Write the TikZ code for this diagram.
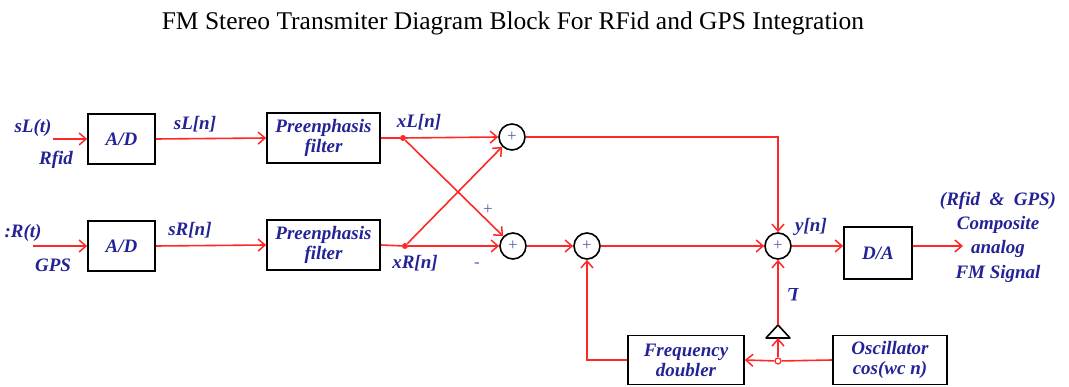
\documentclass[tikz,border=0pt]{standalone}
\usepackage{fontspec}
\setmainfont{Liberation Serif}
\usetikzlibrary{arrows.meta,positioning,calc}
\definecolor{sigred}{RGB}{255,40,40}
\definecolor{txtblue}{RGB}{35,35,150}

\begin{document}
\begin{tikzpicture}[x=1pt,y=-1pt,
  blk/.style={draw, line width=1.6pt, minimum height=50pt, inner sep=0pt, align=center,
    font=\fontsize{19}{20}\selectfont\bfseries\itshape, text=txtblue},
  summer/.style={circle, draw, line width=1.6pt, minimum size=26pt, inner sep=0pt,
    font=\fontsize{17}{17}\selectfont, text=txtblue!75},
  lbl/.style={font=\fontsize{19}{20}\selectfont\bfseries\itshape, text=txtblue},
  sig/.style={sigred, line width=1.6pt, -{Straight Barb[length=7pt,width=12pt,line width=1.5pt]}},
  wire/.style={sigred, line width=1.6pt},
  jdot/.style={circle, fill=sigred, inner sep=0pt, minimum size=6pt}]
\useasboundingbox (0,0) rectangle (1069,387);

% title
\node (title) at (513,23) {\fontsize{25.5}{28}\selectfont FM Stereo Transmiter Diagram Block For RFid and GPS Integration};

% blocks
\node[blk, minimum width=67pt] (adL) at (121.5,139) {A/D};
\node[blk, minimum width=113pt] (preL) at (323.5,138) {Preenphasis\\filter};
\node[blk, minimum width=67pt] (adR) at (121.5,246) {A/D};
\node[blk, minimum width=113pt] (preR) at (323.5,245) {Preenphasis\\filter};
\node[blk, minimum width=68pt, minimum height=52pt] (da) at (878,253) {D/A};
\node[blk, minimum width=116pt, minimum height=49pt] (freq) at (686,360) {Frequency\\doubler};
\node[blk, minimum width=114pt, minimum height=49pt] (osc) at (890,360) {Oscillator\\cos(wc n)};

% adders
\node[summer] (sumA) at (512,137) {+};
\node[summer] (sumB) at (513,246) {+};
\node[summer] (sumC) at (587,246) {+};
\node[summer] (sumY) at (778,246) {+};

% free ends and junctions
\coordinate (inL) at (53,139);
\coordinate (inR) at (33,246);
\coordinate (outEnd) at (963,246);
\node[jdot] (dotL) at (403,138) {};
\node[jdot] (dotR) at (405,246) {};
\coordinate (ampTop) at (778,325);
\coordinate (ampBase) at (778,338);
\node[circle, draw=sigred, fill=white, line width=1.2pt, inner sep=0pt, minimum size=6pt] (jOsc) at (778,361) {};

% gain triangle
\draw[line width=1.6pt, line join=round] (766,338) -- (ampTop) -- (790,338) -- cycle;

% labels
\node[lbl] (sLt) at (33,128) {sL(t)};
\node[lbl] (rfid) at (56,160) {Rfid};
\node[lbl] (sRt) at (23,233) {:R(t)};
\node[lbl] (gps) at (53,265) {GPS};
\node[lbl] (sLn) at (195,124) {sL[n]};
\node[lbl] (sRn) at (190,230) {sR[n]};
\node[lbl] (xLn) at (419,122) {xL[n]};
\node[lbl] (xRn) at (415,263) {xR[n]};
\node[lbl] (yn) at (811,227) {y[n]};
\node[lbl, rotate=180] (gain) at (793,295) {L};
\node[text=txtblue!75, font=\fontsize{17}{17}\selectfont] (plus) at (488,210) {+};
\node[text=txtblue!75, font=\fontsize{17}{17}\selectfont] (minus) at (477,265) {-};
\node[lbl, align=center, font=\fontsize{19}{24.3}\selectfont\bfseries\itshape] (outlbl) at (998,237) {(Rfid \ \& \ GPS)\\Composite\\analog\\FM Signal};

% upper and lower paths
\draw[sig] (inL) -- (adL.west);
\draw[sig] (adL.east) -- (preL.west);
\draw[wire] (preL.east) -- (dotL);
\draw[sig] (dotL) -- (sumA.west);
\draw[sig] (inR) -- (adR.west);
\draw[sig] (adR.east) -- (preR.west);
\draw[wire] (preR.east) -- (dotR);
\draw[sig] (dotR) -- (sumB.west);

% cross-over
\draw[sig] (dotL) -- (sumB.north west);
\draw[sig] (dotR) -- (sumA.south west);

% to the output adder
\draw[sig] (sumA.east) -| (sumY.north);
\draw[sig] (sumB.east) -- (sumC.west);
\draw[sig] (sumC.east) -- (sumY.west);
\draw[sig] (sumY.east) -- (da.west |- sumY.east);
\draw[sig] (da.east |- sumY.east) -- (outEnd);

% carrier branch
\draw[wire] (osc.west) -- (jOsc);
\draw[sig] (jOsc) -- (freq.east);
\draw[sig] (jOsc) -- (ampBase);
\draw[sig] (ampTop) -- (sumY.south);
\draw[sig] (freq.west) -| (sumC.south);

\end{tikzpicture}
\end{document}
